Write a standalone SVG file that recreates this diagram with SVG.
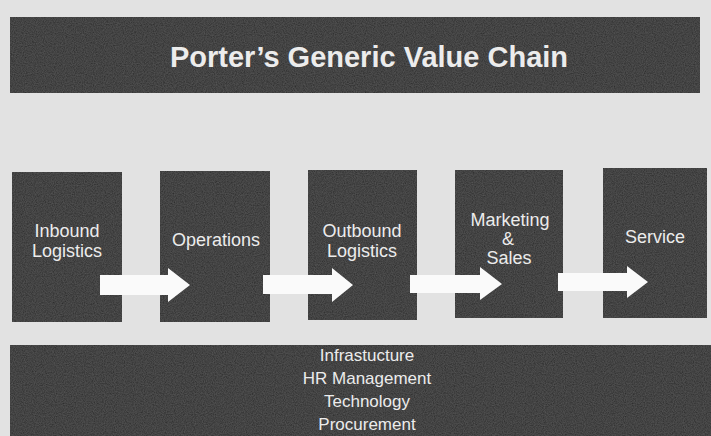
<svg xmlns="http://www.w3.org/2000/svg" width="711" height="436" viewBox="0 0 711 436">
<defs>
<style>
.bg{fill:#e2e2e2}
.dark{fill:#2c2c2c}
.t{font-family:"Liberation Sans",Arial,sans-serif;fill:#ececec;text-anchor:middle}
.title{font-size:29px;font-weight:bold}
.lbl{font-size:18px}
.sup{font-size:17px}
.arrow{fill:#fafafa}
</style>
<filter id="grain" x="0" y="0" width="100%" height="100%">
<feTurbulence type="fractalNoise" baseFrequency="0.9" numOctaves="2" seed="3" result="n"/>
<feColorMatrix in="n" type="matrix" values="0 0 0 0 0.5  0 0 0 0 0.5  0 0 0 0 0.5  0 0 0 0.15 0" result="g"/>
<feComposite in="g" in2="SourceGraphic" operator="in" result="gg"/>
<feMerge><feMergeNode in="SourceGraphic"/><feMergeNode in="gg"/></feMerge>
</filter>
</defs>
<rect class="bg" x="0" y="0" width="711" height="436"/>
<g id="title">
<rect class="dark" x="10" y="17" width="690" height="76" filter="url(#grain)"/>
<text class="t title" x="369" y="67">Porter’s Generic Value Chain</text>
</g>
<g id="inbound-logistics">
<rect class="dark" x="12" y="172" width="110" height="150" filter="url(#grain)"/>
<text class="t lbl" x="67" y="237">Inbound</text>
<text class="t lbl" x="67" y="257">Logistics</text>
</g>
<g id="operations">
<rect class="dark" x="160" y="171" width="110" height="151" filter="url(#grain)"/>
<text class="t lbl" x="216" y="246">Operations</text>
</g>
<g id="outbound-logistics">
<rect class="dark" x="308" y="170" width="109" height="150" filter="url(#grain)"/>
<text class="t lbl" x="362" y="237">Outbound</text>
<text class="t lbl" x="362" y="257">Logistics</text>
</g>
<g id="marketing-sales">
<rect class="dark" x="455" y="170" width="108" height="148" filter="url(#grain)"/>
<text class="t lbl" x="510" y="226">Marketing</text>
<text class="t lbl" x="508" y="245">&amp;</text>
<text class="t lbl" x="509" y="264">Sales</text>
</g>
<g id="service">
<rect class="dark" x="603" y="168" width="104" height="150" filter="url(#grain)"/>
<text class="t lbl" x="655" y="243">Service</text>
</g>
<g id="connectors">
<polygon class="arrow" points="100,275 168,275 168,268 190,285 168,302 168,295 100,295"/>
<polygon class="arrow" points="263,275 332,275 332,268 353,285 332,302 332,294 263,294"/>
<polygon class="arrow" points="410,275 480,275 480,267 502,284 480,300 480,293 410,293"/>
<polygon class="arrow" points="558,273 627,273 627,266 648,282 627,298 627,291 558,291"/>
</g>
<g id="support-activities">
<rect class="dark" x="10" y="345" width="701" height="91" filter="url(#grain)"/>
<text class="t sup" x="367" y="361">Infrastucture</text>
<text class="t sup" x="367" y="384">HR Management</text>
<text class="t sup" x="367" y="407">Technology</text>
<text class="t sup" x="367" y="430">Procurement</text>
</g>
</svg>
